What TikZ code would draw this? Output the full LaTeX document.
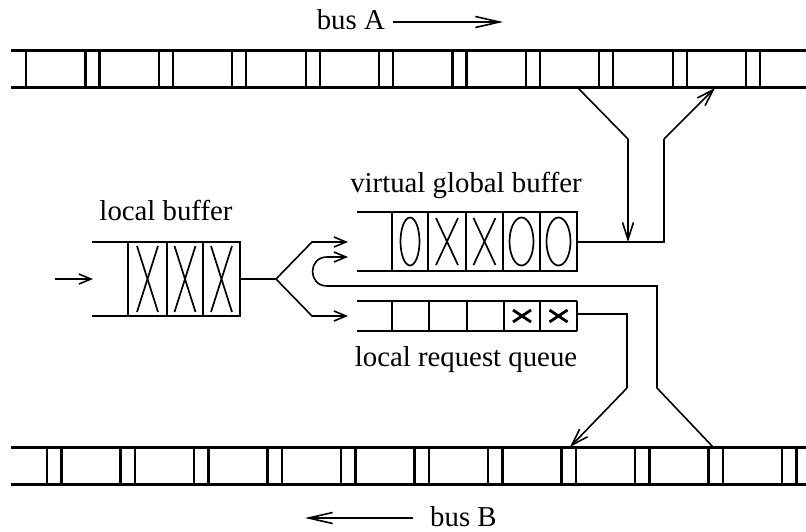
\documentclass[tikz,border=0pt]{standalone}
\usepackage{fontspec}
\setmainfont{Liberation Serif}
\usetikzlibrary{arrows.meta}

\begin{document}
\begin{tikzpicture}[x=1pt,y=-1pt,
  busline/.style={line width=3pt},
  slot/.style={line width=2.2pt},
  boxline/.style={line width=2.6pt},
  wire/.style={line width=1.6pt},
  glyph/.style={line width=1.7pt},
  boldx/.style={line width=2.8pt},
  lbl/.style={font=\fontsize{28.8}{34}\selectfont, inner sep=0pt},
  tipS/.style={-{Straight Barb[length=12pt,width=10pt,line width=1.6pt]}},
  tipM/.style={-{Straight Barb[length=17pt,width=11pt,line width=1.6pt]}},
  tipL/.style={-{Straight Barb[length=24pt,width=11pt,line width=1.6pt]}}
]
\useasboundingbox (0,0) rectangle (806,531);

% ---------------- bus A ----------------
\draw[busline] (11,50) -- (806,50);
\draw[busline] (11,87) -- (806,87);
\draw[slot] (26,50) -- (26,87);
\foreach \k in {1,...,10}{
  \draw[slot] ({12+73.4*\k},50) -- ({12+73.4*\k},87);
  \draw[slot] ({26+73.4*\k},50) -- ({26+73.4*\k},87);
}
\node[lbl, anchor=base east] (busAlbl) at (385,29) {bus A};
\coordinate (busAarrS) at (393,22);
\coordinate (busAarrE) at (503,22);
\draw[wire, tipL] (busAarrS) -- (busAarrE);

% ---------------- bus B ----------------
\draw[busline] (11,447) -- (806,447);
\draw[busline] (11,484) -- (806,484);
\foreach \k in {0,...,10}{
  \draw[slot] ({47+73.5*\k},447) -- ({47+73.5*\k},484);
  \draw[slot] ({61.5+73.5*\k},447) -- ({61.5+73.5*\k},484);
}
\node[lbl, anchor=base west] (busBlbl) at (430,526) {bus B};
\coordinate (busBarrS) at (413,518);
\coordinate (busBarrE) at (305,518);
\draw[wire, tipL] (busBarrS) -- (busBarrE);

% ---------------- local buffer ----------------
\node[lbl, anchor=base] (lbname) at (166,220) {local buffer};
\draw[boxline] (92,242) -- (128,242);
\draw[boxline] (92,316) -- (128,316);
\draw[boxline] (128,242) rectangle (240,316);
\draw[boxline] (167,242) -- (167,316);
\draw[boxline] (203,242) -- (203,316);
\foreach \c in {147.5,185,221.5}{
  \draw[glyph] ({\c-10.5},246) -- ({\c+10.5},312);
  \draw[glyph] ({\c+10.5},246) -- ({\c-10.5},312);
}
\coordinate (lbin0) at (55,279);
\coordinate (lbin) at (93,279);
\draw[wire, tipS] (lbin0) -- (lbin);

% ---------------- virtual global buffer ----------------
\node[lbl, anchor=base] (vgbname) at (466,192) {virtual global buffer};
\draw[boxline] (357,212) -- (392,212);
\draw[boxline] (357,271) -- (392,271);
\draw[boxline] (392,212) rectangle (577,271);
\foreach \x in {428,466,503,540}{
  \draw[boxline] (\x,212) -- (\x,271);
}
\draw[glyph] (410,241.5) ellipse [x radius=9.5pt, y radius=24pt];
\foreach \c in {447,484.5}{
  \draw[glyph] ({\c-11},218) -- ({\c+11},265);
  \draw[glyph] ({\c+11},218) -- ({\c-11},265);
}
\draw[glyph] (521.5,241.5) ellipse [x radius=12pt, y radius=24pt];
\draw[glyph] (558.5,241.5) ellipse [x radius=12pt, y radius=24pt];

% ---------------- local request queue ----------------
\node[lbl, anchor=base] (lrqname) at (466,366) {local request queue};
\draw[boxline] (357,301) -- (577,301);
\draw[boxline] (357,331) -- (577,331);
\draw[boxline] (577,301) -- (577,331);
\foreach \x in {392,429,467,504,540}{
  \draw[boxline] (\x,301) -- (\x,331);
}
\foreach \c in {522,558.5}{
  \draw[boldx] ({\c-9},310) -- ({\c+9},322);
  \draw[boldx] ({\c+9},310) -- ({\c-9},322);
}

% ---------------- fork from the local buffer ----------------
\coordinate (lbout) at (240,279);
\coordinate (fork) at (276,279);
\coordinate (forkup) at (312,242);
\coordinate (forkdn) at (312,316);
\coordinate (vgbin) at (348,242);
\coordinate (lrqin) at (348,316);
\draw[wire] (lbout) -- (fork);
\draw[wire, tipS] (fork) -- (forkup) -- (vgbin);
\draw[wire, tipS] (fork) -- (forkdn) -- (lrqin);

% ---------------- virtual global buffer <-> bus A ----------------
\coordinate (vgbout) at (577,242);
\coordinate (aDrop) at (578,88);
\coordinate (aDropK) at (628,139);
\coordinate (aDropE) at (628,242);
\coordinate (aRise) at (664,242);
\coordinate (aRiseK) at (664,139);
\coordinate (aRiseE) at (715,88);
\draw[wire] (vgbout) -- (aRise) -- (aRiseK);
\draw[wire, tipM] (aRiseK) -- (aRiseE);
\draw[wire] (aDrop) -- (aDropK);
\draw[wire, tipM] (aDropK) -- (aDropE);

% ---------------- bus B -> virtual global buffer (U-turn) ----------------
\coordinate (bTap) at (713,447);
\coordinate (bTapK) at (657,388);
\coordinate (bTapT) at (657,286);
\coordinate (uBot) at (327,286);
\coordinate (uTop) at (327,257);
\coordinate (uEnd) at (348,257);
\draw[wire, tipS] (bTap) -- (bTapK) -- (bTapT) -- (uBot)
  .. controls (307.7,286) and (307.7,257) .. (uTop) -- (uEnd);

% ---------------- local request queue -> bus B ----------------
\coordinate (lrqout) at (577,314);
\coordinate (qK1) at (627,314);
\coordinate (qK2) at (627,388);
\coordinate (qEnd) at (570,447);
\draw[wire] (lrqout) -- (qK1) -- (qK2);
\draw[wire, tipM] (qK2) -- (qEnd);
\end{tikzpicture}
\end{document}
